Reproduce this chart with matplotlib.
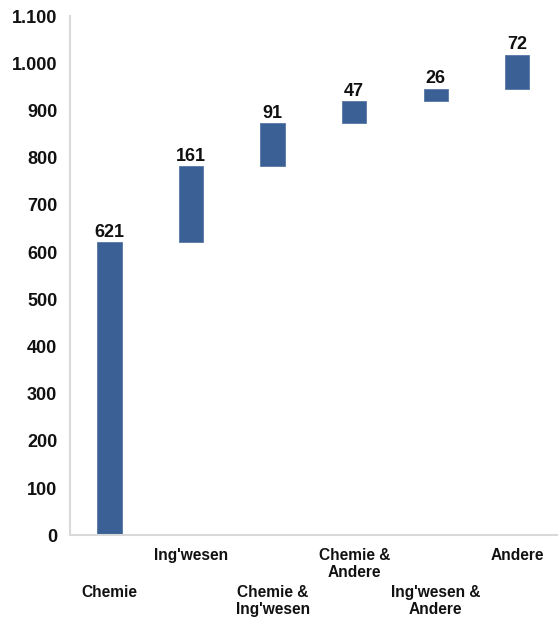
import numpy as np
import matplotlib
matplotlib.use('Agg')
import matplotlib.pyplot as plt
from matplotlib.ticker import FuncFormatter

plt.rcParams['font.family'] = ['Liberation Sans', 'DejaVu Sans']

categories = ['Chemie', "Ing'wesen", "Chemie &\nIng'wesen", 'Chemie &\nAndere', "Ing'wesen &\nAndere", 'Andere']
values = [621, 161, 91, 47, 26, 72]
yticks = list(range(0, 1101, 100))

# waterfall: each bar starts where the previous one ended
tops = np.cumsum(values)
bottoms = tops - np.array(values)
x = np.arange(len(categories))

fig = plt.figure(figsize=(5.58, 6.21), dpi=100)
ax = fig.add_axes([0.125, 0.138, 0.875, 0.836])

ax.bar(x, values, bottom=bottoms, width=0.3, color='#3a6096', edgecolor='#5677a6', linewidth=0.6)

for xi, top, v in zip(x, tops, values):
    ax.annotate(str(v), (xi, top), xytext=(0, 1), textcoords='offset points',
                ha='center', va='bottom', fontsize=13, fontweight='bold', color='#111111')

ax.set_xlim(-0.49, 5.5)
ax.set_ylim(0, 1100)
ax.set_yticks(yticks)
ax.yaxis.set_major_formatter(FuncFormatter(lambda v, p: f'{int(v):,}'.replace(',', '.')))
ax.tick_params(axis='y', length=0, pad=9, labelsize=13)
for lbl in ax.get_yticklabels():
    lbl.set_fontweight('bold')
    lbl.set_color('#111111')
ax.set_xticks([])

# staggered category labels under the axis
for i, (xi, name) in enumerate(zip(x, categories)):
    off = -9 if i % 2 == 1 else -36
    ax.annotate(name, (xi, 0), xycoords=ax.get_xaxis_transform(), xytext=(0, off),
                textcoords='offset points', ha='center', va='top', fontsize=11.2,
                fontweight='bold', color='#111111', linespacing=1.15)

for s in ['top', 'right']:
    ax.spines[s].set_visible(False)
for s in ['left', 'bottom']:
    ax.spines[s].set_color('#d9d9d9')
    ax.spines[s].set_linewidth(1.5)

fig.savefig('out.png', dpi=100)
